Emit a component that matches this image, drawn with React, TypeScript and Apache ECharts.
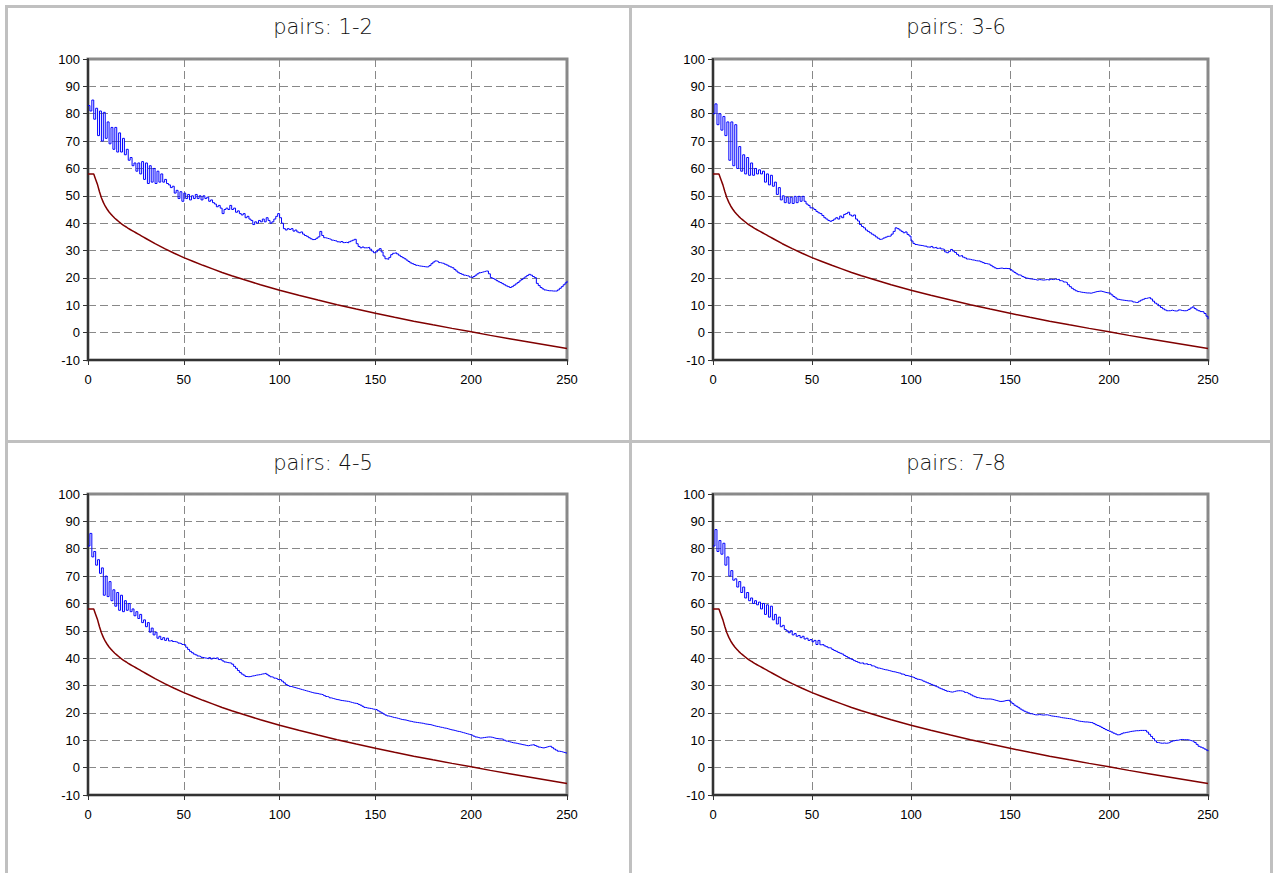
import React, { useEffect, useRef } from "react";
import * as echarts from "echarts";

const panelTitles = ["pairs: 1-2", "pairs: 3-6", "pairs: 4-5", "pairs: 7-8"];

// blue statistic, one value per x = 0..250
const blue12 = [
  83, 81, 85, 78, 82, 72, 81, 70, 80.5, 71, 77, 69, 75, 67, 75, 66, 73, 66, 71, 65,
  67, 63, 64, 61, 62, 59, 62, 58, 62.5, 56, 62, 54.5, 61, 55, 60, 54.5, 59, 55, 58, 55,
  56, 54.5, 54, 53, 53.5, 51, 52, 49, 51.5, 48, 51, 49, 50.5, 48.5, 50, 49, 50.5, 49, 50, 48.5,
  50, 49, 49.5, 48, 48.5, 47.5, 47, 46, 46.5, 45.5, 43.5, 45, 45.5, 45, 46.5, 45, 45.5, 44, 44.5, 43.5,
  43, 43.5, 42, 42.5, 41.5, 41, 39.5, 40.5, 40, 41, 40.5, 41.5, 40.5, 42, 41, 40, 40.5, 41.5, 42.5, 43.5,
  42, 40, 38, 37.5, 38, 37.7, 38, 37.1, 37.5, 36.8, 36.5, 36.8, 36, 35.5, 35.2, 34.7, 34.3, 34, 34.1, 34.5,
  35, 37, 35.5, 34.7, 34.5, 34.3, 34.1, 33.8, 33.6, 33.5, 33.2, 33, 33.3, 32.9, 33, 32.8, 33.2, 33.5, 33.8, 34.1,
  32.5, 31.5, 31, 31.3, 31, 31, 31.2, 30.5, 29.8, 29.2, 29.5, 30.2, 30.7, 29.5, 28, 27, 26.8, 27.5, 28.5, 29,
  29.2, 28.8, 28.3, 27.8, 27.4, 27, 26.5, 26, 25.5, 25.2, 24.9, 24.6, 24.4, 24.3, 24.2, 24.1, 24, 24.1, 24.5, 25.2,
  25.8, 26.2, 26, 25.6, 25.4, 25.3, 25, 24.7, 24.3, 24, 23.7, 23.1, 22.5, 21.9, 21.6, 21.3, 21, 20.8, 20.7, 20.3,
  20.1, 20.5, 21, 21.5, 21.9, 22.1, 22.3, 22.5, 22.5, 21.5, 20.1, 19.8, 19.5, 19, 18.6, 18.3, 17.9, 17.5, 17.1, 16.8,
  16.5, 16.8, 17.3, 17.8, 18.3, 18.9, 19.4, 19.9, 20.4, 20.9, 21.3, 21, 20.5, 20.1, 18, 17.2, 16.5, 16, 15.6, 15.4,
  15.3, 15.3, 15.2, 15.2, 15.2, 15.6, 16.2, 16.8, 17.5, 18.2, 18.9,
];

const blue36 = [
  80, 83.6, 76, 80, 74, 79, 72, 77, 63, 77, 61, 76, 60, 68, 59, 65, 58, 64, 57.5, 62,
  57.5, 60, 58, 59.5, 58, 59, 55, 58, 54, 57.5, 53.5, 55, 50.5, 53, 48.5, 50, 47.5, 49.5, 47.3, 49.5,
  47.2, 49.8, 47.5, 49.8, 48, 49.8, 48, 47, 46.5, 45.6, 45.5, 45, 44.3, 43.8, 43.5, 42.8, 42, 41.5, 41, 40.7,
  41, 41.5, 42, 41.5, 42.6, 42, 43.2, 43.5, 44, 43, 42.6, 43, 41.5, 40.8, 39.5, 38.8, 38.3, 37.5, 37, 36.5,
  36, 35.6, 35, 34.5, 34.1, 34.3, 34.6, 34.9, 35.2, 35.3, 36, 37, 38.3, 38, 37.5, 37, 36.5, 36.8, 35.9, 35.3,
  33.5, 32.6, 32.2, 32, 31.9, 31.8, 31.6, 31.6, 31.3, 31.2, 31.5, 31, 31.2, 30.8, 31, 30.6, 30.4, 29.5, 29.2, 29.7,
  30.4, 29.8, 29.3, 28.6, 28, 28.2, 27.6, 27.3, 26.9, 26.8, 26.6, 26.5, 26.3, 26.2, 26.2, 25.9, 25.6, 25.3, 25.1, 25,
  24.6, 24.1, 23.7, 23.4, 23.5, 23.6, 23.4, 23.5, 23.4, 23.4, 23, 22.5, 22, 21.5, 21.1, 20.9, 20.5, 20.2, 19.9, 19.7,
  19.6, 19.5, 19.4, 19.2, 19.4, 19.3, 19.2, 19.3, 19.4, 19.2, 19.5, 19.4, 19.6, 19.4, 19.5, 19, 18.8, 18.5, 18.3, 17.5,
  16.8, 16.2, 15.7, 15.3, 15, 14.8, 14.7, 14.6, 14.5, 14.5, 14.4, 14.6, 14.8, 15, 15.1, 15.2, 15, 14.8, 14.6, 14.5,
  14.4, 13.8, 13.2, 12.7, 12.2, 12, 11.9, 11.8, 11.7, 11.6, 11.6, 11.5, 11.2, 11, 11.1, 11.5, 11.9, 12.2, 12.5, 12.7,
  12.8, 12.3, 11.5, 10.8, 10.4, 9.8, 9.2, 8.7, 8.3, 8, 8, 8.2, 8, 7.9, 8, 8.3, 8.1, 8, 8, 8.2,
  8.5, 9, 9.4, 8.8, 8.3, 8, 7.7, 7.6, 7, 6, 4.9,
];

const blue45 = [
  81, 85.6, 77, 79, 74, 76, 71, 73, 63, 70, 62.5, 68, 61, 65, 59, 64, 57.5, 63, 57, 61,
  57.5, 60, 57, 58, 55.5, 57, 54.5, 56, 53, 54, 51.5, 53, 49.5, 51, 48.5, 49.5, 47.3, 48, 46.8, 47.5,
  46.5, 47.3, 46.3, 46.5, 46.1, 46, 45.8, 45.5, 45.3, 45, 44.9, 44, 43.2, 42.5, 42, 41.5, 41.2, 40.8, 40.6, 40.3,
  40.1, 40, 39.8, 40.2, 39.7, 40, 39.8, 40.1, 39.5, 39.4, 39, 38.6, 38.4, 38.3, 38.2, 37.8, 37, 36.3, 35.5, 34.8,
  34.2, 33.8, 33.3, 33.2, 33.3, 33.5, 33.6, 33.8, 33.9, 34, 34.2, 34.3, 34.5, 34.1, 33.6, 33.2, 33, 32.7, 32.5, 32.2,
  32.1, 31.6, 31, 30.4, 30, 29.7, 29.5, 29.3, 29.1, 28.9, 28.7, 28.5, 28.3, 28.1, 27.9, 27.7, 27.5, 27.3, 27.2, 27.1,
  26.9, 26.8, 26.6, 26.3, 26, 25.8, 25.5, 25.3, 25.1, 24.9, 24.8, 24.6, 24.5, 24.4, 24.3, 24.2, 24, 23.8, 23.6, 23.5,
  23.4, 23.1, 22.8, 22.4, 22, 21.8, 21.7, 21.6, 21.4, 21.3, 21.2, 20.8, 20.4, 20, 19.6, 19.2, 18.9, 18.7, 18.5, 18.3,
  18.2, 18, 17.8, 17.6, 17.5, 17.4, 17.2, 17, 16.9, 16.7, 16.6, 16.5, 16.4, 16.3, 16.2, 16, 15.9, 15.8, 15.7, 15.5,
  15.3, 15.1, 15, 14.8, 14.7, 14.5, 14.4, 14.2, 14, 13.8, 13.7, 13.5, 13.3, 13.2, 13, 12.8, 12.6, 12.4, 12.2, 12,
  11.8, 11.5, 11.2, 11, 10.8, 10.9, 11, 11.1, 11.2, 11.2, 11.1, 10.9, 10.7, 10.6, 10.5, 10.5, 10.3, 10, 9.7, 9.5,
  9.3, 9.1, 9, 8.9, 8.7, 8.6, 8.4, 8.3, 8.1, 8, 8.2, 8.3, 8.4, 8.1, 7.8, 7.5, 7.3, 7.2, 7.4, 7.6,
  7.8, 7.8, 7.3, 6.8, 6.4, 6, 5.9, 5.7, 5.5, 5.3, 5.1,
];

const blue78 = [
  81, 87, 79, 83, 78, 82, 74, 77, 70, 72, 68.5, 69, 66, 68, 64, 66, 62, 64, 61, 62,
  60, 61, 59.5, 60.5, 58, 60, 56, 59.5, 55, 59, 54, 56, 52.5, 55, 51.5, 52, 50.5, 50, 49.3, 50,
  48.5, 49, 48, 48.3, 47.5, 48, 47, 47.3, 46.5, 46.8, 46, 46.5, 45, 46.5, 44.9, 45, 44.5, 44.2, 43.8, 43.7,
  43.2, 42.8, 42.5, 42.1, 41.8, 41.5, 41, 40.6, 40.2, 39.8, 39.5, 39.1, 38.8, 38.5, 38.2, 38.3, 37.9, 38, 37.7, 37.6,
  37.2, 37, 36.7, 36.4, 36.2, 36, 35.8, 35.7, 35.5, 35.3, 35.1, 35, 34.8, 34.6, 34.5, 34.2, 34, 33.7, 33.5, 33.3,
  33.1, 32.9, 32.6, 32.3, 32.1, 31.9, 31.6, 31.3, 31, 30.7, 30.4, 30.1, 29.8, 29.5, 29.1, 28.8, 28.5, 28.2, 27.9, 27.7,
  27.6, 27.8, 28, 28.1, 28.1, 28, 27.8, 27.5, 27.3, 27, 26.6, 26.2, 25.9, 25.6, 25.4, 25.3, 25.2, 25.1, 25.1, 25.1,
  25, 24.8, 24.6, 24.4, 24.2, 24.2, 24.3, 24.5, 24.6, 24.6, 24, 23.4, 22.8, 22.4, 21.9, 21.4, 21, 20.6, 20.3, 20,
  19.7, 19.5, 19.3, 19.3, 19.4, 19.3, 19.2, 19.3, 19.3, 19.1, 18.9, 18.8, 18.7, 18.6, 18.5, 18.3, 18.2, 18.1, 18, 17.9,
  17.8, 17.6, 17.4, 17.2, 17, 16.9, 16.8, 16.7, 16.7, 16.6, 16.5, 16.4, 16.1, 15.7, 15.4, 15.1, 14.7, 14.3, 13.9, 13.6,
  13.3, 13, 12.6, 12.3, 12, 12.1, 12.4, 12.7, 12.9, 13, 13.2, 13.3, 13.4, 13.5, 13.5, 13.6, 13.6, 13.6, 13.6, 13,
  12.2, 11.4, 10.6, 9.8, 9.2, 9, 8.9, 9, 8.9, 9, 9.2, 9.5, 9.8, 10, 10, 10.2, 10.3, 10.2, 10.2, 10.2,
  10, 9.8, 9.6, 9.2, 8.5, 7.8, 7.5, 7.2, 6.8, 6.4, 6,
];

// dark red threshold curve (same in every panel)
const redX = [
  0, 1, 2, 3, 4, 5, 6, 7, 8, 9, 10, 11, 12, 13, 14, 15, 16, 17, 18, 19, 20,
  21, 22, 23, 24, 25, 26, 27, 28, 29, 30, 35, 40, 45, 50, 55, 60, 65, 70, 75,
  80, 85, 90, 95, 100, 110, 120, 130, 140, 150, 160, 170, 180, 190, 200, 210,
  220, 230, 240, 250,
];
const redY = [
  58, 58, 58, 58, 56, 54, 51.5, 49.3, 47.6, 46.2, 45.1, 44.1, 43.3, 42.5, 41.8, 41.2, 40.6, 40, 39.5, 39, 38.6,
  38.1, 37.7, 37.3, 36.9, 36.5, 36.1, 35.7, 35.3, 34.9, 34.5, 32.5, 30.7, 29, 27.4, 26, 24.6, 23.3, 22, 20.8,
  19.7, 18.6, 17.5, 16.5, 15.5, 13.65, 11.9, 10.2, 8.6, 7.07, 5.61, 4.2, 2.85, 1.56, 0.31, -1,
  -2.2, -3.4, -4.6, -5.8,
];

const blueSeries = [blue12, blue36, blue45, blue78];

const grids = [
  { left: 88, top: 59, width: 479, height: 301 },
  { left: 713, top: 59, width: 495, height: 301 },
  { left: 88, top: 494, width: 479, height: 301 },
  { left: 713, top: 494, width: 495, height: 301 },
];
const titlePos = [
  { x: 318, y: 11 },
  { x: 951, y: 11 },
  { x: 318, y: 447 },
  { x: 951, y: 447 },
];

const labelFont = "'Liberation Sans', Arial, sans-serif";

export default function App() {
  const ref = useRef<HTMLDivElement>(null);
  useEffect(() => {
    if (!ref.current) return;
    const chart = echarts.init(ref.current, null, { renderer: "svg" });
    const dash = [8, 4];
    const option: any = {
      animation: false,
      backgroundColor: "#ffffff",
      title: panelTitles.map((t, i) => ({
        text: t,
        left: titlePos[i].x,
        top: titlePos[i].y,
        textAlign: "center",
        textStyle: {
          fontFamily: "'DejaVu Sans', sans-serif",
          fontWeight: 200,
          fontSize: 21,
          color: "#111",
        },
      })),
      grid: grids.map((g) => ({
        ...g,
        show: true,
        borderColor: "#8a8a8a",
        borderWidth: 3,
        backgroundColor: "transparent",
      })),
      xAxis: grids.map((_, i) => ({
        type: "value",
        gridIndex: i,
        min: 0,
        max: 250,
        interval: 50,
        axisLine: { show: true, onZero: false, lineStyle: { color: "#333", width: 2 } },
        axisTick: { show: true, length: 5, lineStyle: { color: "#333", width: 1 } },
        axisLabel: { color: "#000", fontFamily: labelFont, fontSize: 13, margin: 13 },
        splitLine: { show: true, lineStyle: { color: "#888", width: 1, type: dash } },
      })),
      yAxis: grids.map((_, i) => ({
        type: "value",
        gridIndex: i,
        min: -10,
        max: 100,
        interval: 10,
        axisLine: { show: true, onZero: false, lineStyle: { color: "#333", width: 2 } },
        axisTick: { show: true, length: 5, lineStyle: { color: "#333", width: 1 } },
        axisLabel: { color: "#000", fontFamily: labelFont, fontSize: 13, margin: 8 },
        splitLine: { show: true, lineStyle: { color: "#888", width: 1, type: dash } },
      })),
      series: [
        ...blueSeries.map((arr, i) => ({
          type: "line",
          xAxisIndex: i,
          yAxisIndex: i,
          data: arr.map((v, x) => [x, v]),
          step: "end",
          showSymbol: false,
          symbol: "none",
          lineStyle: { color: "#0000ff", width: 1 },
          z: 3,
        })),
        ...blueSeries.map((_, i) => ({
          type: "line",
          xAxisIndex: i,
          yAxisIndex: i,
          data: redX.map((x, k) => [x, redY[k]]),
          showSymbol: false,
          symbol: "none",
          lineStyle: { color: "#800000", width: 1.5 },
          z: 2,
        })),
      ],
      graphic: [
        {
          type: "rect",
          shape: { x: 6.5, y: 6.5, width: 1265, height: 880 },
          style: { fill: "none", stroke: "#c0c0c0", lineWidth: 3 },
          z: 100,
        },
        {
          type: "line",
          shape: { x1: 630.5, y1: 6.5, x2: 630.5, y2: 873 },
          style: { stroke: "#c0c0c0", lineWidth: 3 },
          z: 100,
        },
        {
          type: "line",
          shape: { x1: 6.5, y1: 441.5, x2: 1271.5, y2: 441.5 },
          style: { stroke: "#c0c0c0", lineWidth: 3 },
          z: 100,
        },
      ],
    };
    chart.setOption(option);
    return () => chart.dispose();
  }, []);
  return (
    <div
      ref={ref}
      style={{ position: "absolute", left: 0, top: 0, width: 1276, height: 873 }}
    />
  );
}
